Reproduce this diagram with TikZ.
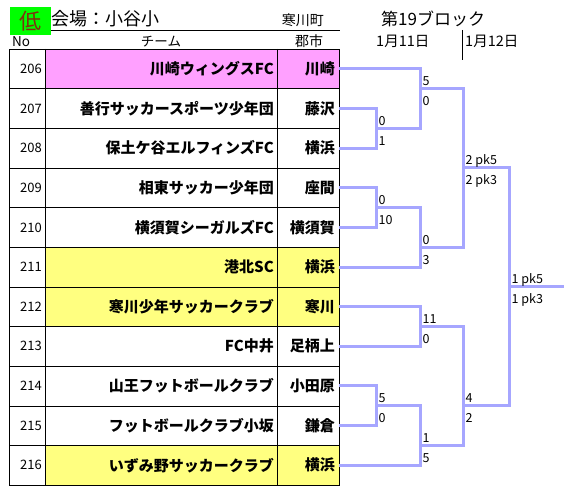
\documentclass[tikz,border=0pt]{standalone}
\usepackage{fontspec}
\setmainfont{Noto Sans CJK JP}
\definecolor{tiecolor}{RGB}{166,166,255}
\definecolor{lowgreen}{RGB}{0,255,0}
\definecolor{lowtext}{RGB}{128,48,16}
\definecolor{seedpink}{RGB}{255,160,255}
\definecolor{hostyellow}{RGB}{255,255,128}
\newcommand\rh{39.64}
\newcommand\tabtop{49}
\tikzset{
  tie/.style={tiecolor, line width=3pt, line join=miter},
  numtext/.style={anchor=east, inner sep=0pt, font=\fontsize{13}{13}\selectfont},
  teamtext/.style={anchor=east, inner sep=0pt, font=\fontsize{15}{15}\selectfont\bfseries},
  headtext/.style={inner sep=0pt, font=\fontsize{13.5}{13.5}\selectfont},
  scoreup/.style={anchor=base west, inner sep=0pt, xshift=2.5pt, yshift=3pt, font=\fontsize{12.5}{12.5}\selectfont},
  scoredown/.style={anchor=base west, inner sep=0pt, xshift=2.5pt, yshift=-17pt, font=\fontsize{12.5}{12.5}\selectfont},
}
\begin{document}
\begin{tikzpicture}[x=1pt, y=-1pt]
    \useasboundingbox[fill=white] (0,0) rectangle (564,497);
    % heading
    \draw (10,30) -- (340,30);
    \fill[lowgreen] (10,7) rectangle (51,35);
    \node[inner sep=0pt, text=lowtext, font=\fontsize{22}{22}\selectfont] (low) at (30.5,21) {低};
    \node[anchor=base west, inner sep=0pt, font=\fontsize{18}{18}\selectfont] (venue) at (51,26) {会場：小谷小};
    \node[anchor=base east, inner sep=0pt, font=\fontsize{14}{14}\selectfont] (town) at (324,25.5) {寒川町};
    \node[headtext, anchor=base west] (nohead) at (12,46.5) {No};
    \node[headtext, anchor=base] (teamhead) at (161,46.5) {チーム};
    \node[headtext, anchor=base, font=\fontsize{14}{14}\selectfont] (cityhead) at (309,46.5) {郡市};
    \node[anchor=base west, inner sep=0pt, font=\fontsize{17}{17}\selectfont] (block) at (381,25.5) {第19ブロック};
    \node[headtext, anchor=base west, font=\fontsize{14.5}{14.5}\selectfont] (day1) at (376,46.5) {1月11日};
    \node[headtext, anchor=base west, font=\fontsize{14.5}{14.5}\selectfont] (day2) at (465,46.5) {1月12日};
    \draw (462,30) -- (462,60);
    % teams
    \foreach \no/\team/\city/\cellcolor [count=\i from 0] in {
        206/川崎ウィングスFC/川崎/seedpink,
        207/善行サッカースポーツ少年団/藤沢/white,
        208/保土ケ谷エルフィンズFC/横浜/white,
        209/相東サッカー少年団/座間/white,
        210/横須賀シーガルズFC/横須賀/white,
        211/港北SC/横浜/hostyellow,
        212/寒川少年サッカークラブ/寒川/hostyellow,
        213/FC中井/足柄上/white,
        214/山王フットボールクラブ/小田原/white,
        215/フットボールクラブ小坂/鎌倉/white,
        216/いずみ野サッカークラブ/横浜/hostyellow} {
        \pgfmathsetmacro\rowtop{\tabtop+\i*\rh}
        \pgfmathsetmacro\rowmid{\rowtop+\rh/2}
        \fill[\cellcolor] (45,\rowtop) rectangle (339,\rowtop+\rh);
        \node[numtext] (no\i) at (42,\rowmid) {\no};
        \node[teamtext] (team\i) at (274,\rowmid) {\team};
        \node[teamtext] (city\i) at (335,\rowmid) {\city};
        \coordinate (e\i) at (339,\rowmid);
    }
    \foreach \k in {1,...,10} {
        \draw (9,{\tabtop+\k*\rh}) -- (339,{\tabtop+\k*\rh});
    }
    \draw (9,\tabtop) rectangle (339,{\tabtop+11*\rh});
    \draw (45,\tabtop) -- (45,{\tabtop+11*\rh});
    \draw (277,\tabtop) -- (277,{\tabtop+11*\rh});
    % matches
    \coordinate (mA) at (376,{\tabtop+2*\rh});
    \coordinate (mB) at (420,{\tabtop+1*\rh});
    \coordinate (mC) at (376,{\tabtop+4*\rh});
    \coordinate (mD) at (420,{\tabtop+5*\rh});
    \coordinate (mE) at (463,{\tabtop+3*\rh});
    \coordinate (mF) at (420,{\tabtop+7*\rh});
    \coordinate (mG) at (376,{\tabtop+9*\rh});
    \coordinate (mH) at (420,{\tabtop+10*\rh});
    \coordinate (mI) at (463,{\tabtop+9*\rh});
    \coordinate (mJ) at (509,{\tabtop+6*\rh});
    \coordinate (fin) at (564,{\tabtop+6*\rh});
    \draw[tie] (e1) -| (mA) |- (e2);
    \draw[tie] (e0) -| (mB) |- (mA);
    \draw[tie] (e3) -| (mC) |- (e4);
    \draw[tie] (mC) -| (mD) |- (e5);
    \draw[tie] (mB) -| (mE) |- (mD);
    \draw[tie] (e6) -| (mF) |- (e7);
    \draw[tie] (e8) -| (mG) |- (e9);
    \draw[tie] (mG) -| (mH) |- (e10);
    \draw[tie] (mF) -| (mI) |- (mH);
    \draw[tie] (mE) -| (mJ) |- (mI);
    \draw[tie] (mJ) -- (fin);
    % scores
    \foreach \m/\up/\down in {mA/0/1, mB/5/0, mC/0/10, mD/0/3, mE/2 pk5/2 pk3,
        mF/11/0, mG/5/0, mH/1/5, mI/4/2, mJ/1 pk5/1 pk3} {
        \node[scoreup] (\m up) at (\m) {\up};
        \node[scoredown] (\m down) at (\m) {\down};
    }
\end{tikzpicture}
\end{document}
